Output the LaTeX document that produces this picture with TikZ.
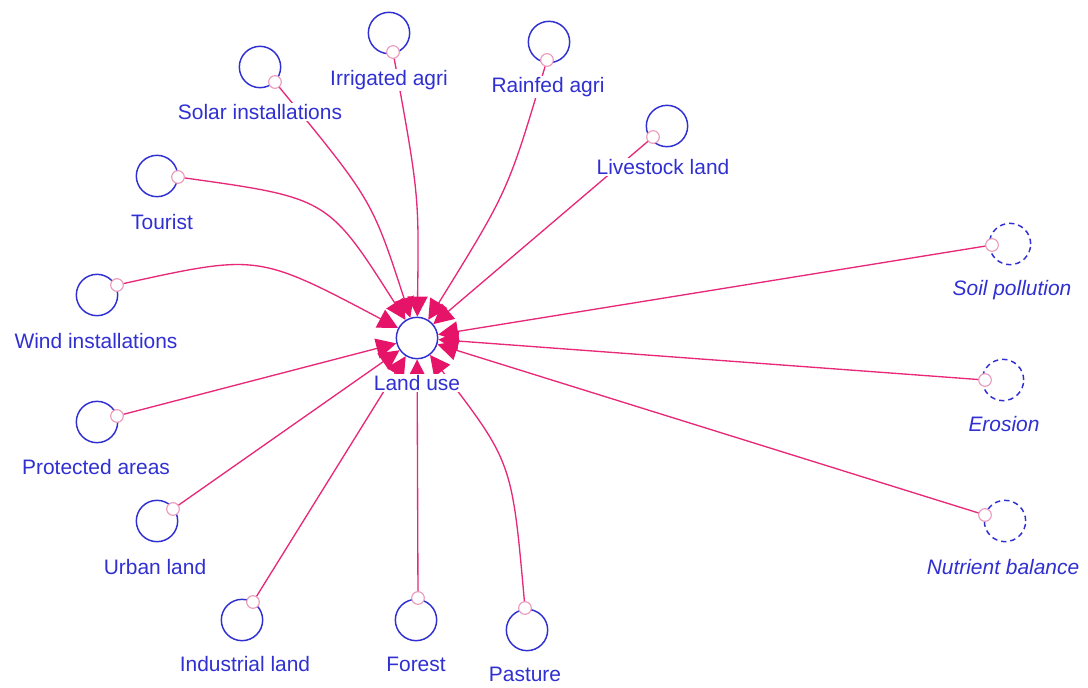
\documentclass[tikz,border=0pt]{standalone}
\usepackage{fontspec}
\setmainfont{Liberation Sans}
\usetikzlibrary{arrows.meta}
\definecolor{varblue}{RGB}{48,48,210}
\definecolor{linkpink}{RGB}{232,40,120}
\definecolor{headpink}{RGB}{230,20,105}
\definecolor{dotpink}{RGB}{235,150,185}

\begin{document}
\begin{tikzpicture}[x=0.75pt,y=-0.75pt,
  var/.style={circle,draw=varblue,line width=1.1pt,minimum size=31pt,inner sep=0pt},
  shadowvar/.style={var,dash pattern=on 4pt off 3pt},
  pt/.style={circle,draw=dotpink,fill=white,line width=0.8pt,minimum size=9.5pt,inner sep=0pt},
  lbl/.style={text=varblue,fill=white,inner sep=1pt,font=\fontsize{15.7}{18}\selectfont},
  ilbl/.style={lbl,font=\fontsize{15.7}{18}\selectfont\itshape},
  link/.style={draw=linkpink,line width=1pt,-{Triangle[length=15pt,width=15pt,color=headpink]}}
]
\useasboundingbox (0,0) rectangle (1088,688);

% central variable
\node[var,fill=white] (lu) at (417,338) {};

% inputs
\node[var] (irr) at (389,33) {};   \node[pt] (irr-p) at (393,52) {};
\node[var] (sol) at (260,67) {};   \node[pt] (sol-p) at (275,82) {};
\node[var] (rain) at (549,42) {};  \node[pt] (rain-p) at (547,60) {};
\node[var] (live) at (667,126) {}; \node[pt] (live-p) at (653,137) {};
\node[var] (tour) at (157,176) {}; \node[pt] (tour-p) at (178,177) {};
\node[var] (wind) at (97,295) {};  \node[pt] (wind-p) at (117,285) {};
\node[var] (prot) at (97,422) {};  \node[pt] (prot-p) at (117,416) {};
\node[var] (urb) at (157,521) {};  \node[pt] (urb-p) at (173,509) {};
\node[var] (ind) at (242,620) {};  \node[pt] (ind-p) at (253,602) {};
\node[var] (for) at (416,620) {};  \node[pt] (for-p) at (418,598) {};
\node[var] (past) at (527,630) {}; \node[pt] (past-p) at (525,608) {};
\node[shadowvar] (soil) at (1010,244) {}; \node[pt] (soil-p) at (992,245) {};
\node[shadowvar] (ero) at (1003,380) {};  \node[pt] (ero-p) at (985,380) {};
\node[shadowvar] (nut) at (1005,521) {};  \node[pt] (nut-p) at (985,515) {};

% causal links
\draw[link] (irr-p) .. controls (419,195) .. (lu);
\draw[link] (sol-p) .. controls (372,200) .. (lu);
\draw[link] (rain-p) .. controls (508,191) .. (lu);
\draw[link] (live-p) -- (lu);
\draw[link] (tour-p) .. controls (328,198) .. (lu);
\draw[link] (wind-p) .. controls (258,254) .. (lu);
\draw[link] (prot-p) -- (lu);
\draw[link] (urb-p) -- (lu);
\draw[link] (ind-p) -- (lu);
\draw[link] (for-p) -- (lu);
\draw[link] (past-p) .. controls (512,462) .. (lu);
\draw[link] (soil-p) -- (lu);
\draw[link] (ero-p) -- (lu);
\draw[link] (nut-p) -- (lu);

% names
\node[lbl] at (417,383) {Land use};
\node[lbl] at (389,80) {Irrigated agri};
\node[lbl] at (260,112) {Solar installations};
\node[lbl] at (548,87) {Rainfed agri};
\node[lbl] at (663,167) {Livestock land};
\node[lbl] at (162,222) {Tourist};
\node[lbl] at (96,341) {Wind installations};
\node[lbl] at (96,467) {Protected areas};
\node[lbl] at (155,567) {Urban land};
\node[lbl] at (245,664) {Industrial land};
\node[lbl] at (416,664) {Forest};
\node[lbl] at (525,674) {Pasture};
\node[ilbl] at (1012,290) {Soil pollution};
\node[ilbl] at (1004,424) {Erosion};
\node[ilbl] at (1003,567) {Nutrient balance};
\end{tikzpicture}
\end{document}
